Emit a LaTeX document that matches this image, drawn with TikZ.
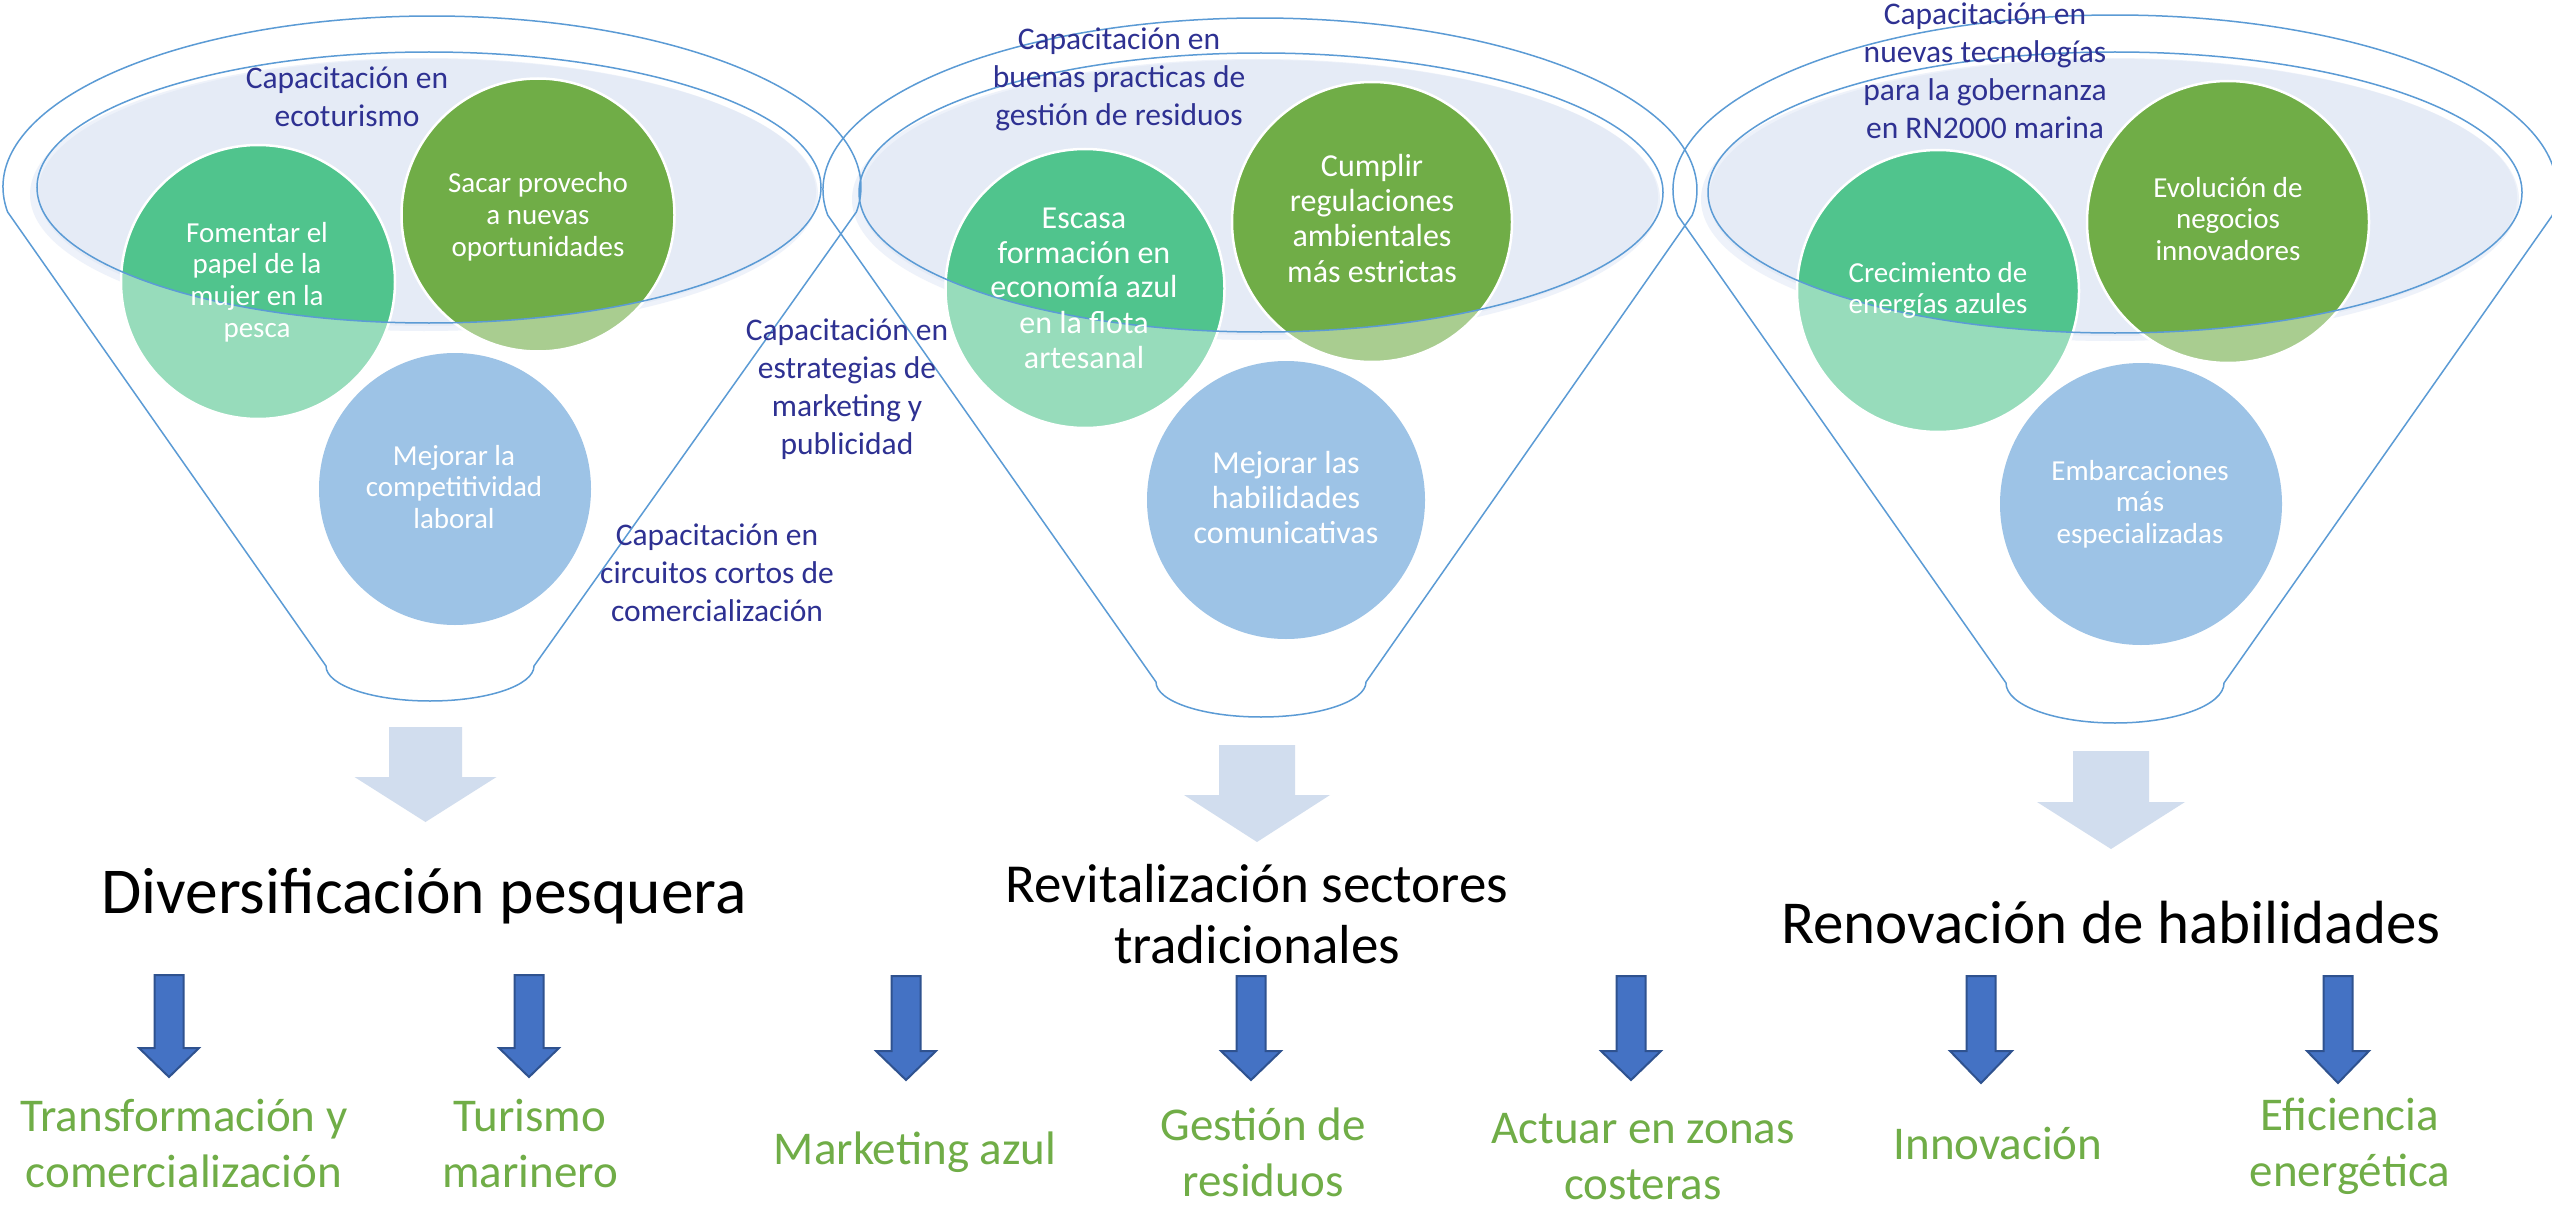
\documentclass[tikz,border=0pt]{standalone}
\usepackage{fontspec}
\setmainfont{Carlito}
\usetikzlibrary{calc}
\definecolor{outl}{RGB}{91,155,213}
\definecolor{rimfill}{RGB}{229,235,246}
\definecolor{rimband}{RGB}{238,242,250}
\definecolor{mgreenD}{RGB}{80,196,141}
\definecolor{mgreenL}{RGB}{151,220,187}
\definecolor{dgreenD}{RGB}{112,173,71}
\definecolor{dgreenL}{RGB}{169,205,144}
\definecolor{bcircle}{RGB}{157,195,230}
\definecolor{navy}{RGB}{46,49,146}
\definecolor{gtext}{RGB}{112,173,71}
\definecolor{bigarrow}{RGB}{209,221,238}
\definecolor{barrowfill}{RGB}{68,114,196}
\definecolor{barrowline}{RGB}{47,82,143}
\newcommand{\mlines}[1]{\begin{tabular}[t]{@{}c@{}}#1\end{tabular}}
% funnel outline: cx cy rx ry bx by brx bry
\newcommand{\funnelpath}[8]{%
  \draw[outline] ($(#1,#2)+(171.6:#3 and #4)$) arc[start angle=171.6,end angle=368.4,x radius=#3,y radius=#4]
    -- ($(#5,#6)+(#7,0)$) arc[start angle=0,end angle=180,x radius=#7,y radius=#8] -- cycle;}
% rim: cx cy rx ry
\newcommand{\rimfill}[4]{%
  \fill[rimband] ($(#1,#2)+(-5,7)$) ellipse[x radius=#3+2,y radius=#4+1];
  \fill[rimfill] ($(#1,#2)+(-2,5)$) ellipse[x radius=#3-3,y radius=#4-2];}
% block arrow: style cx top heady tip halfshaft halfhead
\newcommand{\blockarrow}[7]{%
  \path[#1] (#2-#6,#3) -- (#2+#6,#3) -- (#2+#6,#4) -- (#2+#7,#4) -- (#2,#5) -- (#2-#7,#4) -- (#2-#6,#4) -- cycle;}
\tikzset{
  outline/.style={draw=outl, line width=1.5pt},
  ring/.style={draw=white, line width=2.5pt},
  bigarr/.style={fill=bigarrow},
  smallarr/.style={fill=barrowfill, draw=barrowline, line width=2pt, line join=miter},
  capt/.style={inner sep=0pt, anchor=base, text=navy, font=\fontsize{31.5}{38}\selectfont},
  ctA/.style={inner sep=0pt, anchor=base, text=white, font=\fontsize{29}{31.7}\selectfont},
  ctB/.style={inner sep=0pt, anchor=base, text=white, font=\fontsize{32}{35}\selectfont},
  ttlA/.style={inner sep=0pt, anchor=base, text=black, font=\fontsize{65.5}{72}\selectfont},
  ttlB/.style={inner sep=0pt, anchor=base, text=black, font=\fontsize{55}{61}\selectfont},
  ttlC/.style={inner sep=0pt, anchor=base, text=black, font=\fontsize{61}{70}\selectfont},
  gt/.style={inner sep=0pt, anchor=base, text=gtext, font=\fontsize{47}{56.5}\selectfont},
}
\begin{document}
\begin{tikzpicture}[x=1pt,y=-1pt]
\useasboundingbox (0,0) rectangle (2552,1212);
\fill[white] (0,0) rectangle (2552,1212);

% ---- rim fills
\rimfill{429}{187.5}{392}{135.5}
\rimfill{1261}{192.5}{402}{139.5}
\rimfill{2115}{192.5}{407}{140.5}

% ---- circles (light)
\fill[mgreenL] (258,282) circle[radius=137];
\fill[dgreenL] (538,215) circle[radius=136.5];
\fill[bcircle] (455,489) circle[radius=136];
\fill[mgreenL] (1085,288.5) circle[radius=139.5];
\fill[dgreenL] (1372,222) circle[radius=140];
\fill[bcircle] (1286,500) circle[radius=139];
\fill[mgreenL] (1938,291) circle[radius=141];
\fill[dgreenL] (2228,222) circle[radius=141];
\fill[bcircle] (2141,504) circle[radius=141];

% ---- circles (dark parts inside the rims)
\begin{scope}
  \clip (429,187.5) ellipse[x radius=392,y radius=135.5];
  \fill[mgreenD] (258,282) circle[radius=137];
  \fill[dgreenD] (538,215) circle[radius=136.5];
\end{scope}
\begin{scope}
  \clip (1261,192.5) ellipse[x radius=402,y radius=139.5];
  \fill[mgreenD] (1085,288.5) circle[radius=139.5];
  \fill[dgreenD] (1372,222) circle[radius=140];
\end{scope}
\begin{scope}
  \clip (2115,192.5) ellipse[x radius=407,y radius=140.5];
  \fill[mgreenD] (1938,291) circle[radius=141];
  \fill[dgreenD] (2228,222) circle[radius=141];
\end{scope}

% ---- white rings
\draw[ring] (258,282) circle[radius=137];
\draw[ring] (538,215) circle[radius=136.5];
\draw[ring] (1085,288.5) circle[radius=139.5];
\draw[ring] (1372,222) circle[radius=140];
\draw[ring] (1938,291) circle[radius=141];
\draw[ring] (2228,222) circle[radius=141];

% ---- rim outlines
\draw[outline] (429,187.5) ellipse[x radius=392,y radius=135.5];
\draw[outline] (1261,192.5) ellipse[x radius=402,y radius=139.5];
\draw[outline] (2115,192.5) ellipse[x radius=407,y radius=140.5];

% ---- funnel outlines
\funnelpath{432}{187}{429}{171}{430}{666}{104}{35}
\funnelpath{1260}{190}{437}{172}{1261}{682}{105}{35}
\funnelpath{2115}{190}{442}{175}{2115}{683}{109}{40}

% ---- big light arrows
\blockarrow{bigarr}{425.5}{727}{777}{822}{36.5}{71}
\blockarrow{bigarr}{1257}{745}{795}{842}{38}{73}
\blockarrow{bigarr}{2111}{751}{802}{849}{38}{74}

% ---- small blue arrows
\blockarrow{smallarr}{169}{975}{1048}{1077}{14.5}{30}
\blockarrow{smallarr}{529}{975}{1048}{1077}{14.5}{30}
\blockarrow{smallarr}{906}{976}{1051}{1080}{14.5}{30}
\blockarrow{smallarr}{1251}{976}{1051}{1080}{14.5}{30}
\blockarrow{smallarr}{1631}{976}{1051}{1080}{14.5}{30}
\blockarrow{smallarr}{1981}{976}{1051}{1083}{14.5}{31}
\blockarrow{smallarr}{2338}{976}{1051}{1083}{14.5}{31}

% ---- navy captions
\node[capt] (cap1) at (347,89) {\mlines{Capacitación en\\ecoturismo}};
\node[capt] (cap2) at (847,340) {\mlines{Capacitación en\\estrategias de\\marketing y\\publicidad}};
\node[capt] (cap3) at (717,545) {\mlines{Capacitación en\\circuitos cortos de\\comercialización}};
\node[capt] (cap4) at (1119,50) {\mlines{Capacitación en\\buenas practicas de\\gestión de residuos}};
\node[capt] (cap5) at (1985,25) {\mlines{Capacitación en\\nuevas tecnologías\\para la gobernanza\\en RN2000 marina}};

% ---- circle texts
\node[ctA] (c11) at (257,242) {\mlines{Fomentar el\\papel de la\\mujer en la\\pesca}};
\node[ctA] (c12) at (538,193) {\mlines{Sacar provecho\\a nuevas\\oportunidades}};
\node[ctA] (c13) at (454,465) {\mlines{Mejorar la\\competitividad\\laboral}};
\node[ctB] (c21) at (1084,228) {\mlines{Escasa\\formación en\\economía azul\\en la flota\\artesanal}};
\node[ctB] (c22) at (1372,177) {\mlines{Cumplir\\regulaciones\\ambientales\\más estrictas}};
\node[ctB] (c23) at (1286,473) {\mlines{Mejorar las\\habilidades\\comunicativas}};
\node[ctA] (c31) at (1938,282) {\mlines{Crecimiento de\\energías azules}};
\node[ctA] (c32) at (2228,197) {\mlines{Evolución de\\negocios\\innovadores}};
\node[ctA] (c33) at (2140,480) {\mlines{Embarcaciones\\más\\especializadas}};

% ---- titles
\node[ttlA] (d1) at (424,913) {Diversificación pesquera};
\node[ttlB] (d2) at (1257,902) {\mlines{Revitalización sectores\\tradicionales}};
\node[ttlC] (d3) at (2111,943) {Renovación de habilidades};

% ---- green outcomes
\node[gt] (g1) at (184,1131) {\mlines{Transformación y\\comercialización}};
\node[gt] (g2) at (530,1131) {\mlines{Turismo\\marinero}};
\node[gt] (g3) at (915,1164) {Marketing azul};
\node[gt] (g4) at (1263,1140) {\mlines{Gestión de\\residuos}};
\node[gt] (g5) at (1643,1143) {\mlines{Actuar en zonas\\costeras}};
\node[gt] (g6) at (1998,1159) {Innovación};
\node[gt] (g7) at (2350,1130) {\mlines{Eficiencia\\energética}};
\end{tikzpicture}
\end{document}
